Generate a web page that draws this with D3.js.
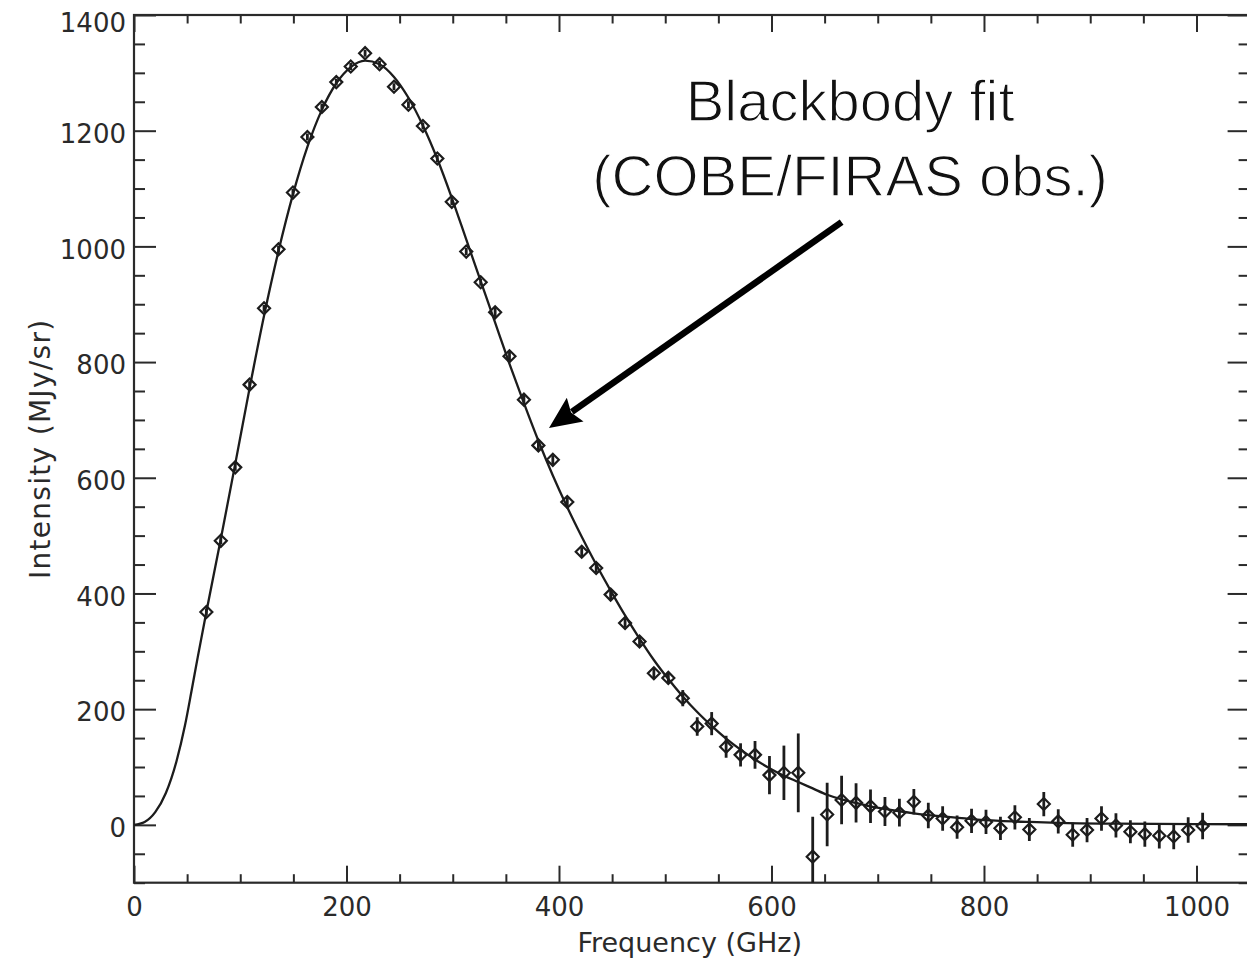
<!DOCTYPE html>
<html>
<head>
<meta charset="utf-8">
<script src="https://cdn.jsdelivr.net/npm/d3@7"></script>
<style>
    body { margin: 0; background: #fff; }
    svg { display: block; }
</style>
</head>
<body>
<div id="chart"></div>
<script>
// COBE/FIRAS points
const freqGHz = [
    68.1, 81.7, 95.3, 108.8, 122.4, 136.0, 149.6, 163.2, 176.8, 190.4,
    204.0, 217.5, 231.1, 244.7, 258.3, 271.9, 285.5, 299.1, 312.7, 326.3,
    339.9, 353.4, 367.0, 380.6, 394.2, 407.8, 421.4, 435.0, 448.6, 462.2,
    475.8, 489.3, 502.9, 516.5, 530.1, 543.7, 557.3, 570.9, 584.5, 598.1,
    611.7, 625.2, 638.8, 652.4, 666.0, 679.6, 693.2, 706.8, 720.4, 734.0,
    747.6, 761.1, 774.7, 788.3, 801.9, 815.5, 829.1, 842.7, 856.3, 869.9,
    883.5, 897.0, 910.6, 924.2, 937.8, 951.4, 965.0, 978.6, 992.2, 1005.8
];
const intensity = [
    368, 491, 618, 761, 893, 995, 1093, 1189, 1241, 1284,
    1311, 1334, 1315, 1276, 1245, 1208, 1152, 1077, 991, 938,
    886, 810, 735, 656, 631, 558, 472, 444, 398, 349,
    317, 262, 254, 219, 170, 175, 135, 121, 121, 86,
    90, 90, -55, 18, 43, 38, 32, 23, 21, 40,
    16, 11, -4, 7, 5, -6, 13, -8, 36, 6,
    -17, -9, 11, -1, -12, -16, -19, -20, -9, -2
];
const errBar = [
    6, 6, 6, 6, 6, 6, 6, 6, 6, 6,
    6, 6, 6, 6, 6, 6, 6, 6, 6, 6,
    8, 8, 8, 8, 8, 8, 8, 8, 8, 8,
    8, 10, 10, 14, 16, 20, 19, 20, 24, 33,
    47, 68, 69, 55, 42, 34, 29, 25, 24, 22,
    22, 21, 20, 21, 21, 20, 21, 20, 21, 21,
    21, 21, 21, 21, 20, 22, 22, 22, 22, 23
];

// blackbody fit curve
const fitFreq = [
    0, 10, 20, 30, 40, 48, 54, 60, 68.1, 81.7,
    95.3, 108.8, 122.4, 136, 149.6, 163.2, 176.8, 190.4, 204, 217.5,
    231.1, 244.7, 258.3, 271.9, 285.5, 299.1, 312.7, 326.3, 339.9, 353.4,
    367, 380.6, 394.2, 407.8, 421.4, 435, 448.6, 462.2, 475.8, 489.3,
    502.9, 516.5, 530.1, 543.7, 557.3, 570.9, 584.5, 598.1, 611.7, 625.2,
    638.8, 652.4, 666, 679.6, 693.2, 706.8, 720.4, 734, 761, 788,
    815, 843, 870, 924, 1000, 1050
];
const fitIntensity = [
    0, 5, 22, 55, 110, 172, 230, 290, 368, 494,
    624, 755, 880, 992, 1090, 1172, 1236, 1282, 1310, 1321,
    1315, 1293, 1257, 1209, 1151, 1084, 1012, 940, 868, 797,
    729, 664, 604, 549, 498, 450, 405, 362, 322, 285,
    252, 222, 195, 171, 149, 130, 113, 98, 85, 74,
    63, 52, 44, 38, 32, 27.5, 23.5, 20, 14.5, 10,
    7, 5, 3.5, 2, 1.2, 1
];

const xTicks = [0, 200, 400, 600, 800, 1000];
const yTicks = [0, 200, 400, 600, 800, 1000, 1200, 1400];

const W = 1247, H = 969;
const margin = { top: 15, left: 134 };
const plotW = 1115.6, plotH = 867.7;
const ink = '#1c1c1c';
const axisFont = '"DejaVu Sans", sans-serif';

const svg = d3.select('#chart').append('svg')
    .attr('width', W)
    .attr('height', H);

const g = svg.append('g')
    .attr('transform', `translate(${margin.left}, ${margin.top})`);

const xScale = d3.scaleLinear().domain([0, 1050]).range([0, plotW]);
const yScale = d3.scaleLinear().domain([-100, 1400]).range([plotH, 0]);

const xMinor = d3.range(0, 1051, 50).filter(v => v % 200 !== 0);
const yMinor = d3.range(-100, 1401, 50).filter(v => v % 200 !== 0);

g.append('clipPath').attr('id', 'plot-clip')
    .append('rect').attr('width', plotW).attr('height', plotH);

// axes: ticks point inward on all four sides
function styleAxis(sel) {
    sel.select('.domain').remove();
    sel.selectAll('line').attr('stroke', '#2a2a2a').attr('stroke-width', 2);
    sel.selectAll('text')
        .attr('fill', '#2a2a2a')
        .style('font-family', axisFont)
        .style('font-size', '26px');
}

g.append('g')
    .attr('transform', `translate(0, ${plotH})`)
    .call(d3.axisBottom(xScale).tickValues(xTicks).tickSize(-17).tickPadding(15).tickFormat(d3.format('d')))
    .call(styleAxis);
g.append('g')
    .attr('transform', `translate(0, ${plotH})`)
    .call(d3.axisBottom(xScale).tickValues(xMinor).tickSize(-8.5).tickFormat(''))
    .call(styleAxis);
g.append('g')
    .call(d3.axisTop(xScale).tickValues(xTicks).tickSize(-17).tickFormat(''))
    .call(styleAxis);
g.append('g')
    .call(d3.axisTop(xScale).tickValues(xMinor).tickSize(-8.5).tickFormat(''))
    .call(styleAxis);

g.append('g')
    .call(d3.axisLeft(yScale).tickValues(yTicks).tickSize(-22).tickPadding(8).tickFormat(d3.format('d')))
    .call(styleAxis)
    .selectAll('text').attr('dy', d => d === 1400 ? '0.62em' : '0.45em');
g.append('g')
    .call(d3.axisLeft(yScale).tickValues(yMinor).tickSize(-11).tickFormat(''))
    .call(styleAxis);
g.append('g')
    .attr('transform', `translate(${plotW}, 0)`)
    .call(d3.axisRight(yScale).tickValues(yTicks).tickSize(-22).tickFormat(''))
    .call(styleAxis);
g.append('g')
    .attr('transform', `translate(${plotW}, 0)`)
    .call(d3.axisRight(yScale).tickValues(yMinor).tickSize(-11).tickFormat(''))
    .call(styleAxis);

g.append('rect')
    .attr('width', plotW)
    .attr('height', plotH)
    .attr('fill', 'none')
    .attr('stroke', '#2a2a2a')
    .attr('stroke-width', 2.2);

// axis titles
g.append('text')
    .attr('x', xScale(523))
    .attr('y', plotH + 69)
    .attr('text-anchor', 'middle')
    .attr('fill', '#2a2a2a')
    .style('font-family', axisFont)
    .style('font-size', '27px')
    .text('Frequency (GHz)');

g.append('text')
    .attr('transform', `translate(${50 - margin.left}, ${yScale(650)}) rotate(-90)`)
    .attr('text-anchor', 'middle')
    .attr('fill', '#2a2a2a')
    .style('font-family', axisFont)
    .style('font-size', '28px')
    .style('letter-spacing', '1.3px')
    .text('Intensity (MJy/sr)');

// fit curve
const fitData = fitFreq.map((f, i) => ({ f: f, v: fitIntensity[i] }));
const line = d3.line()
    .x(d => xScale(d.f))
    .y(d => yScale(d.v))
    .curve(d3.curveMonotoneX);

const plot = g.append('g').attr('clip-path', 'url(#plot-clip)');

plot.append('path')
    .datum(fitData)
    .attr('fill', 'none')
    .attr('stroke', ink)
    .attr('stroke-width', 2.3)
    .attr('d', line);

// data points with error bars
const points = freqGHz.map((f, i) => ({ f: f, v: intensity[i], e: errBar[i] }));

plot.selectAll('.err')
    .data(points)
    .enter().append('line')
    .attr('class', 'err')
    .attr('x1', d => xScale(d.f))
    .attr('x2', d => xScale(d.f))
    .attr('y1', d => yScale(d.v - d.e))
    .attr('y2', d => yScale(d.v + d.e))
    .attr('stroke', ink)
    .attr('stroke-width', 2.8);

const r = 6;
plot.selectAll('.dot')
    .data(points)
    .enter().append('path')
    .attr('class', 'dot')
    .attr('d', d => {
        const cx = xScale(d.f), cy = yScale(d.v);
        return `M${cx - r},${cy}L${cx},${cy - r}L${cx + r},${cy}L${cx},${cy + r}Z`;
    })
    .attr('fill', 'none')
    .attr('stroke', ink)
    .attr('stroke-width', 2.2);

// annotation, thinned with a white outline to look like a light face
const note = g.append('g')
    .style('font-family', '"Liberation Sans", Arial, sans-serif')
    .style('font-size', '58px')
    .attr('fill', '#111')
    .attr('stroke', '#fff')
    .attr('stroke-width', 1.3)
    .attr('text-anchor', 'middle');
note.append('text')
    .attr('x', xScale(674))
    .attr('y', yScale(1217))
    .text('Blackbody fit');
note.append('text')
    .attr('x', xScale(674))
    .attr('y', yScale(1087))
    .text('(COBE/FIRAS obs.)');

// arrow pointing at the curve
const tail = [xScale(666), yScale(1042)];
const tip = [xScale(390.6), yScale(686)];
const dx = tip[0] - tail[0], dy = tip[1] - tail[1];
const len = Math.hypot(dx, dy);
const ux = dx / len, uy = dy / len;
const headLen = 32, headHalf = 14.5;
const base = [tip[0] - ux * headLen, tip[1] - uy * headLen];

g.append('line')
    .attr('x1', tail[0]).attr('y1', tail[1])
    .attr('x2', base[0] + ux * 4).attr('y2', base[1] + uy * 4)
    .attr('stroke', '#000')
    .attr('stroke-width', 6.5);

g.append('path')
    .attr('d', `M${tip[0]},${tip[1]}` +
        `L${base[0] - uy * headHalf},${base[1] + ux * headHalf}` +
        `L${base[0] + ux * 5},${base[1] + uy * 5}` +
        `L${base[0] + uy * headHalf},${base[1] - ux * headHalf}Z`)
    .attr('fill', '#000');
</script>
</body>
</html>
